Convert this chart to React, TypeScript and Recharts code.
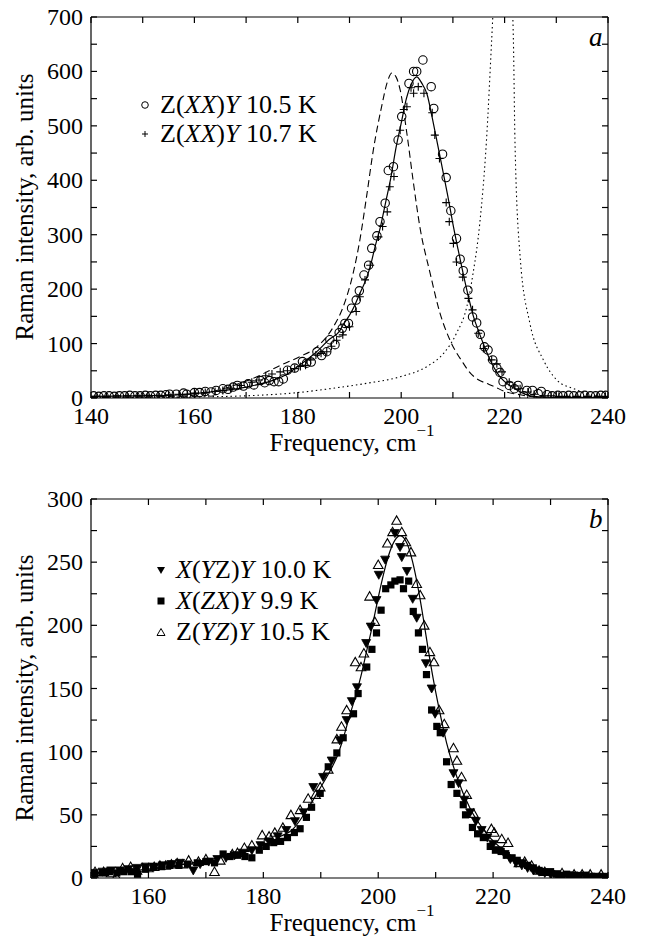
import React from 'react';
import { ComposedChart, Line, Scatter, XAxis, YAxis } from 'recharts';

const FONT = "'Liberation Serif', serif";
const CSS = `
#root .ser, #root .ser *, #root svg text.ser { font-family: 'Liberation Serif', 'Times New Roman', serif !important; }
`;

// ---------- panel a ----------
const ticksAX = [140, 150, 160, 170, 180, 190, 200, 210, 220, 230, 240];
const labelsAX = [140, 160, 180, 200, 220, 240];
const ticksAY = [0, 50, 100, 150, 200, 250, 300, 350, 400, 450, 500, 550, 600, 650, 700];
const labelsAY = [0, 100, 200, 300, 400, 500, 600, 700];

// Z(XX)Y 10.5 K, open circles
const circF = [140.5, 141.5, 142.5, 143.5, 144.5, 145.5, 146.5, 147.5, 148.5, 149.5, 150.5, 151.5, 152.5, 153.5, 154.5, 155.2, 156.5, 157.9, 158.5, 160, 161, 162.1, 163.2, 164.2, 165.5, 166.5, 167.5, 168.3, 169.5, 170.4, 171.5, 172.8, 173.6, 174.5, 175.4, 176.3, 177.2, 178, 179.4, 180.9, 181.7, 182.6, 183.7, 184.6, 185.6, 186.2, 187.2, 188, 188.6, 189.1, 189.8, 190.4, 191.3, 191.9, 192.8, 193.7, 194.3, 195.3, 195.9, 196.9, 197.5, 198.5, 199.4, 200.1, 201.5, 202.4, 203, 204.2, 205.8, 206.3, 208, 208.7, 209.6, 210.7, 211.4, 212, 212.9, 213.8, 214.6, 215.3, 216.1, 216.8, 217.7, 218.5, 219.1, 219.7, 220.9, 221.9, 222.6, 223.7, 224.3, 225.4, 226.5, 227.1, 228.2, 229.2, 230.3, 231.3, 232.4, 233.4, 234.5, 235.5, 236.6, 237.6, 238.6, 239.6];
const circV = [4, 3, 4, 4, 3, 4, 4, 5, 4, 4, 5, 4, 5, 5, 6, 7, 7, 9, 7, 10, 10, 12, 11, 14, 17, 16, 20, 23, 22, 26, 24, 32, 28, 32, 30, 30, 35, 51, 55, 67, 64, 66, 85, 78, 85, 107, 98, 120, 128, 137, 137, 165, 180, 197, 226, 244, 275, 298, 324, 358, 418, 425, 474, 517, 578, 600, 600, 621, 572, 532, 448, 405, 344, 293, 255, 234, 198, 149, 138, 117, 94, 88, 70, 55, 47, 30, 23, 17, 23, 4, 14, 14, 8, 12, 6, 4, 5, 4, 5, 4, 4, 5, 4, 4, 5, 5];

// Z(XX)Y 10.7 K, crosses
const plusF = [141, 143, 145, 147, 149, 151, 153, 155, 157, 158.6, 160, 162.1, 164, 165.5, 167, 169, 171.1, 172.5, 173.8, 175, 176.6, 178, 179.4, 180.5, 181.5, 182.5, 183.5, 184.5, 185.6, 186.5, 187.5, 188.7, 190, 191.3, 192, 193, 194, 195.6, 196.4, 197.3, 197.8, 198.6, 199.8, 200.5, 201.1, 201.9, 202.4, 203.3, 204.4, 206, 206.5, 207.4, 208.7, 209.3, 210.1, 210.7, 211.9, 213, 213.8, 214.9, 215.9, 217.5, 218.5, 219.5, 220.9, 222, 223, 224.5, 225.7, 227.8, 229, 230.5, 232, 234, 236, 238, 239.5];
const plusV = [3, 3, 4, 4, 4, 5, 5, 6, 7, 7, 9, 10, 12, 14, 18, 23, 29, 33, 41, 44, 48, 50, 54, 58, 60, 70, 79, 82, 85, 95, 106, 116, 131, 159, 186, 217, 244, 296, 315, 342, 388, 407, 492, 530, 535, 570, 560, 572, 560, 524, 483, 440, 359, 324, 284, 250, 222, 183, 162, 119, 91, 70, 63, 48, 29, 22, 17, 11, 7, 4, 4, 3, 3, 3, 3, 3, 3];

// solid fit
const fitAF = [140, 150, 155, 160, 165, 170, 175, 178, 180, 182, 184, 186, 188, 189, 190, 191, 192, 193, 194, 195, 196, 197, 198, 199, 200, 201, 202, 203, 204, 205, 206, 207, 208, 209, 210, 211, 212, 213, 214, 215, 216, 217, 218, 219, 220, 221, 222, 223, 224, 225, 227, 230, 240];
const fitAV = [3, 4, 5, 8, 13, 20, 32, 44, 58, 72, 88, 107, 122, 138, 152, 170, 192, 213, 241, 280, 315, 360, 405, 460, 505, 550, 578, 590, 578, 558, 515, 468, 420, 372, 320, 273, 228, 186, 149, 122, 97, 74, 55, 40, 30, 23, 17, 11, 7, 4, 2, 1, 1];

// dashed curve
const dashF = [140, 150, 158.6, 165.5, 171.1, 176.6, 180.4, 183.7, 186.9, 188.8, 190.7, 192, 193.3, 194.6, 196.2, 197.3, 198.2, 199, 199.8, 201.1, 202.3, 203.6, 205.6, 207.5, 209.4, 212, 213, 214, 215, 216.5, 218, 220, 223, 226, 240];
const dashV = [1, 2, 4, 17, 35, 60, 76, 94, 131, 168, 229, 290, 370, 455, 535, 580, 597, 590, 566, 486, 400, 315, 229, 156, 107, 64, 50, 40, 33, 27, 21, 12, 6, 2, 0];

// dotted curve
const dotF = [140, 150, 160, 170, 180, 186.9, 193.3, 199.8, 205, 208.2, 210.7, 212.7, 213.9, 215.2, 216.5, 217.5, 218.5, 219.7, 220.8, 221.7, 222, 223, 224.9, 227.5, 230.1, 233.4, 237.5, 240];
const dotV = [0, 1, 2, 4, 10, 18, 27, 39, 58, 82, 119, 168, 229, 321, 474, 658, 850, 1000, 850, 658, 474, 260, 137, 70, 33, 17, 4, 2];

// ---------- panel b ----------
const ticksBX = [150, 160, 170, 180, 190, 200, 210, 220, 230, 240];
const labelsBX = [160, 180, 200, 220, 240];
const ticksBY = [0, 25, 50, 75, 100, 125, 150, 175, 200, 225, 250, 275, 300];
const labelsBY = [0, 50, 100, 150, 200, 250, 300];

// X(YZ)Y 10.0 K, filled down triangles
const triDnF = [150.5, 152, 153.5, 155, 156.5, 158, 159.5, 161, 162.5, 164, 165.5, 167.8, 169, 170.5, 172, 173.5, 175, 176.5, 178, 179.5, 181, 182.5, 184, 185.5, 187, 188.7, 190.4, 191.9, 193.3, 194.5, 195.4, 196.3, 197.9, 198.7, 199.7, 200.1, 201.2, 202.9, 203.8, 204.1, 205, 206, 206.7, 208.3, 209.3, 209.9, 211.3, 213.1, 214, 215, 216, 217, 218, 219, 220, 221, 222, 223, 224, 225, 226, 227, 228, 229, 230, 231, 232, 233, 234, 235, 236, 237, 238, 239];
const triDnV = [4, 5, 6, 6, 7, 8, 9, 9, 10, 11, 12, 6, 11, 13, 15, 16, 18, 20, 22, 26, 29, 33, 38, 45, 52, 72, 80, 93, 109, 125, 140, 151, 186, 199, 220, 240, 252, 273, 262, 254, 243, 221, 206, 170, 150, 130, 115, 83, 75, 62, 52, 45, 38, 32, 27, 22, 19, 15, 12, 10, 8, 6, 5, 4, 3, 3, 2, 2, 2, 1, 2, 1, 1, 1];

// X(ZX)Y 9.9 K, filled squares
const sqF = [150.7, 152, 153.2, 154.5, 155.7, 157, 158.1, 159.5, 160.9, 162.3, 163.7, 165.3, 166.8, 168.5, 170, 171.5, 173, 174.2, 175.5, 176.8, 178, 179.3, 180.5, 181.8, 183, 184.2, 185.4, 186.4, 187.5, 188.4, 189.9, 191.3, 192.8, 193.9, 195.7, 196.5, 198, 198.9, 199.7, 200.5, 201.3, 202.2, 202.9, 203.8, 204.4, 205.3, 206.1, 207, 207.7, 208.4, 209.3, 210.2, 210.8, 211.9, 212.7, 213.7, 214.8, 215.2, 216.4, 217.3, 218.3, 219.5, 220.4, 221.4, 222.3, 223.3, 224.2, 225.1, 226, 227, 228, 228.8, 230, 231, 231.9, 232.8, 233.8, 235, 236.3, 237.5, 238.8, 239.5];
const sqV = [3, 4, 5, 4, 5, 5, 3, 7, 9, 9, 10, 10, 11, 12, 13, 12, 19, 17, 18, 17, 16, 22, 25, 28, 29, 32, 36, 39, 48, 56, 67, 88, 99, 111, 130, 146, 167, 181, 194, 212, 229, 232, 235, 236, 229, 235, 211, 194, 181, 161, 133, 120, 115, 92, 74, 67, 58, 50, 40, 35, 32, 25, 22, 21, 18, 16, 14, 12, 10, 8, 6, 5, 5, 3, 1, 3, 2, 2, 0, 1, 0, 1];

// Z(YZ)Y 10.5 K, open up triangles
const triUpF = [150.7, 152.2, 153.5, 154.4, 155.5, 156.9, 158, 159, 160, 161, 162, 163, 164, 165, 166, 167, 168.7, 170, 171.5, 172.5, 174.6, 175.5, 176.7, 178, 179.8, 181, 182, 183.4, 184.8, 186.4, 187.8, 189.1, 189.9, 191.3, 192.8, 193.6, 194.5, 196, 197, 197.5, 198.5, 199.4, 200, 201.6, 202.5, 203.2, 204.1, 204.8, 205.7, 206.7, 207.3, 208, 209, 209.7, 210.6, 211.5, 213.1, 213.7, 214.5, 215.4, 216.6, 218.3, 219.7, 220.2, 221.5, 222.6, 224.5, 225.5, 226.7, 228, 229, 230.7, 232, 234.1, 235.5, 236.9, 238.8];
const triUpV = [5, 5, 4, 1, 8, 9, 6, 8, 8, 9, 10, 10, 11, 12, 11, 14, 13, 15, 5, 14, 19, 20, 24, 26, 34, 33, 36, 40, 50, 54, 63, 66, 72, 86, 110, 120, 133, 171, 167, 178, 223, 203, 248, 265, 274, 283, 274, 266, 258, 233, 224, 200, 179, 171, 133, 122, 103, 93, 80, 66, 51, 36, 39, 36, 31, 28, 12, 13, 10, 6, 5, 1, 4, 3, 3, 3, 3];

// solid fit
const fitBF = [150, 155, 160, 165, 170, 175, 180, 183, 185, 187.6, 190, 192, 193, 194, 195, 196, 197, 198, 199, 200, 201, 202, 203, 203.8, 205, 206, 207, 207.9, 208.7, 209.6, 210.5, 211.9, 213.7, 216, 218.9, 222.4, 227, 231, 235, 240];
const fitBV = [4, 5, 7, 10, 14, 19, 26, 33, 38, 54, 72, 88, 98, 112, 128, 143, 160, 180, 200, 222, 242, 258, 268, 271, 265, 250, 228, 204, 181, 157, 136, 107, 80, 55, 35, 20, 9, 4, 2, 1];

const zip = (fs: number[], vs: number[]) => fs.map((f, i) => ({ f, v: vs[i] }));

const LINE_W = 1.2;

// markers
const OpenCircle = (p: any) => <circle cx={p.cx} cy={p.cy} r={4.2} fill="none" stroke="#000" strokeWidth={1.1} />;
const Cross = (p: any) => (
  <path d={`M${p.cx - 4},${p.cy}H${p.cx + 4}M${p.cx},${p.cy - 4}V${p.cy + 4}`} stroke="#000" strokeWidth={1.1} fill="none" />
);
const TriDown = (p: any) => (
  <path d={`M${p.cx - 4.5},${p.cy - 3.5}L${p.cx + 4.5},${p.cy - 3.5}L${p.cx},${p.cy + 4.5}Z`} fill="#000" stroke="#000" strokeWidth={0.8} />
);
const TriUp = (p: any) => (
  <path d={`M${p.cx - 4.8},${p.cy + 3.8}L${p.cx + 4.8},${p.cy + 3.8}L${p.cx},${p.cy - 4.6}Z`} fill="#fff" fillOpacity={0} stroke="#000" strokeWidth={1.1} />
);
const Square = (p: any) => <rect x={p.cx - 3.6} y={p.cy - 3.6} width={7.2} height={7.2} fill="#000" />;

// ticks, pointing into the plot box
const bottomTick = (labels: number[]) => (props: any) => {
  const { x, y, payload } = props;
  return (
    <g>
      <line x1={x} y1={y} x2={x} y2={y - 6} stroke="#000" strokeWidth={LINE_W} />
      {labels.includes(payload.value) && (
        <text className="ser" x={x} y={y + 26} textAnchor="middle" fontFamily={FONT} fontSize={24} fill="#000">
          {payload.value}
        </text>
      )}
    </g>
  );
};
const topTick = (props: any) => {
  const { x, y } = props;
  return <line x1={x} y1={y} x2={x} y2={y + 6} stroke="#000" strokeWidth={LINE_W} />;
};
const leftTick = (labels: number[]) => (props: any) => {
  const { x, y, payload } = props;
  return (
    <g>
      <line x1={x} y1={y} x2={x + 6} y2={y} stroke="#000" strokeWidth={LINE_W} />
      {labels.includes(payload.value) && (
        <text className="ser" x={x - 8} y={y + 8} textAnchor="end" fontFamily={FONT} fontSize={24} fill="#000">
          {payload.value}
        </text>
      )}
    </g>
  );
};
const rightTick = (props: any) => {
  const { x, y } = props;
  return <line x1={x} y1={y} x2={x - 6} y2={y} stroke="#000" strokeWidth={LINE_W} />;
};

const axisLine = { stroke: '#000', strokeWidth: LINE_W };

const YTitle = ({ top }: { top: number }) => (
  <div
    className="ser"
    style={{
      position: 'absolute',
      left: 25,
      top,
      transform: 'translate(-50%, -50%) rotate(-90deg)',
      fontFamily: FONT,
      fontSize: 25,
      whiteSpace: 'nowrap',
      color: '#000',
    }}
  >
    Raman intensity, arb. units
  </div>
);

const XTitle = ({ top }: { top: number }) => (
  <div
    className="ser"
    style={{
      position: 'absolute',
      left: 352,
      top,
      transform: 'translateX(-50%)',
      fontFamily: FONT,
      fontSize: 25,
      whiteSpace: 'nowrap',
      color: '#000',
      lineHeight: '28px',
    }}
  >
    Frequency, cm<sup style={{ fontSize: 17, verticalAlign: 'top', position: 'relative', top: -12 }}>−1</sup>
  </div>
);

const LegendRow = ({ top, left, marker, children }: any) => (
  <div className="ser" style={{ position: 'absolute', top, left, display: 'flex', alignItems: 'center', fontFamily: FONT, fontSize: 26, color: '#000', whiteSpace: 'nowrap', lineHeight: '28px' }}>
    <svg width={14} height={14} style={{ marginRight: 8 }}>{marker}</svg>
    <span>{children}</span>
  </div>
);

const PanelA = () => (
  <ComposedChart width={645} height={474} margin={{ top: 16, right: 36, bottom: 0, left: 0 }}>
    <XAxis xAxisId="b" dataKey="f" type="number" domain={[140, 240]} ticks={ticksAX} interval={0} height={76}
      tickSize={0} tickMargin={0} tickLine={false} axisLine={axisLine} tick={bottomTick(labelsAX)} allowDataOverflow />
    <XAxis xAxisId="t" orientation="top" dataKey="f" type="number" domain={[140, 240]} ticks={ticksAX} interval={0} height={1}
      tickSize={0} tickMargin={0} tickLine={false} axisLine={axisLine} tick={topTick} allowDataOverflow />
    <YAxis yAxisId="l" dataKey="v" type="number" domain={[0, 700]} ticks={ticksAY} interval={0} width={91}
      tickSize={0} tickMargin={0} tickLine={false} axisLine={axisLine} tick={leftTick(labelsAY)} allowDataOverflow />
    <YAxis yAxisId="r" orientation="right" dataKey="v" type="number" domain={[0, 700]} ticks={ticksAY} interval={0} width={1}
      tickSize={0} tickMargin={0} tickLine={false} axisLine={axisLine} tick={rightTick} allowDataOverflow />
    <Line xAxisId="b" yAxisId="l" data={zip(dotF, dotV)} dataKey="v" type="monotone" stroke="#000" strokeWidth={1.1} strokeDasharray="1.5 3" dot={false} isAnimationActive={false} />
    <Line xAxisId="b" yAxisId="l" data={zip(dashF, dashV)} dataKey="v" type="monotone" stroke="#000" strokeWidth={1.1} strokeDasharray="7 4" dot={false} isAnimationActive={false} />
    <Line xAxisId="b" yAxisId="l" data={zip(fitAF, fitAV)} dataKey="v" type="monotone" stroke="#000" strokeWidth={1.2} dot={false} isAnimationActive={false} />
    <Scatter xAxisId="b" yAxisId="l" data={zip(plusF, plusV)} dataKey="v" shape={Cross} isAnimationActive={false} />
    <Scatter xAxisId="b" yAxisId="l" data={zip(circF, circV)} dataKey="v" shape={OpenCircle} isAnimationActive={false} />
  </ComposedChart>
);

const PanelB = () => (
  <ComposedChart width={645} height={474} margin={{ top: 24, right: 36, bottom: 0, left: 0 }}>
    <XAxis xAxisId="b" dataKey="f" type="number" domain={[150, 240]} ticks={ticksBX} interval={0} height={70}
      tickSize={0} tickMargin={0} tickLine={false} axisLine={axisLine} tick={bottomTick(labelsBX)} allowDataOverflow />
    <XAxis xAxisId="t" orientation="top" dataKey="f" type="number" domain={[150, 240]} ticks={ticksBX} interval={0} height={1}
      tickSize={0} tickMargin={0} tickLine={false} axisLine={axisLine} tick={topTick} allowDataOverflow />
    <YAxis yAxisId="l" dataKey="v" type="number" domain={[0, 300]} ticks={ticksBY} interval={0} width={91}
      tickSize={0} tickMargin={0} tickLine={false} axisLine={axisLine} tick={leftTick(labelsBY)} allowDataOverflow />
    <YAxis yAxisId="r" orientation="right" dataKey="v" type="number" domain={[0, 300]} ticks={ticksBY} interval={0} width={1}
      tickSize={0} tickMargin={0} tickLine={false} axisLine={axisLine} tick={rightTick} allowDataOverflow />
    <Line xAxisId="b" yAxisId="l" data={zip(fitBF, fitBV)} dataKey="v" type="monotone" stroke="#000" strokeWidth={1.2} dot={false} isAnimationActive={false} />
    <Scatter xAxisId="b" yAxisId="l" data={zip(sqF, sqV)} dataKey="v" shape={Square} isAnimationActive={false} />
    <Scatter xAxisId="b" yAxisId="l" data={zip(triDnF, triDnV)} dataKey="v" shape={TriDown} isAnimationActive={false} />
    <Scatter xAxisId="b" yAxisId="l" data={zip(triUpF, triUpV)} dataKey="v" shape={TriUp} isAnimationActive={false} />
  </ComposedChart>
);

export default function App() {
  return (
    <div style={{ position: 'absolute', left: 0, top: 0, width: 645, height: 948, background: '#fff', overflow: 'hidden' }}>
      <style>{CSS}</style>
      <div style={{ position: 'absolute', left: 0, top: 0 }}>
        <PanelA />
      </div>
      <div style={{ position: 'absolute', left: 0, top: 474 }}>
        <PanelB />
      </div>

      <YTitle top={207} />
      <YTitle top={688} />
      <XTitle top={429} />
      <XTitle top={909} />

      <div className="ser" style={{ position: 'absolute', left: 589, top: 22, fontFamily: FONT, fontStyle: 'italic', fontSize: 27 }}>a</div>
      <div className="ser" style={{ position: 'absolute', left: 589, top: 504, fontFamily: FONT, fontStyle: 'italic', fontSize: 27 }}>b</div>

      <LegendRow top={91} left={138} marker={<circle cx={7} cy={7} r={3.3} fill="none" stroke="#000" strokeWidth={1} />}>
        Z(<i>XX</i>)<i>Y</i> 10.5 K
      </LegendRow>
      <LegendRow top={120} left={138} marker={<path d="M4,7H10M7,4V10" stroke="#000" strokeWidth={1} />}>
        Z(<i>XX</i>)<i>Y</i> 10.7 K
      </LegendRow>

      <LegendRow top={556} left={154} marker={<path d="M3,4H11L7,11Z" fill="#000" />}>
        <i>X</i>(<i>Y</i>Z)<i>Y</i> 10.0 K
      </LegendRow>
      <LegendRow top={587} left={154} marker={<rect x={3.5} y={3.5} width={7} height={7} fill="#000" />}>
        <i>X</i>(<i>ZX</i>)<i>Y</i> 9.9 K
      </LegendRow>
      <LegendRow top={618} left={154} marker={<path d="M3,10.5H11L7,3.5Z" fill="none" stroke="#000" strokeWidth={1} />}>
        Z(<i>YZ</i>)<i>Y</i> 10.5 K
      </LegendRow>
    </div>
  );
}
